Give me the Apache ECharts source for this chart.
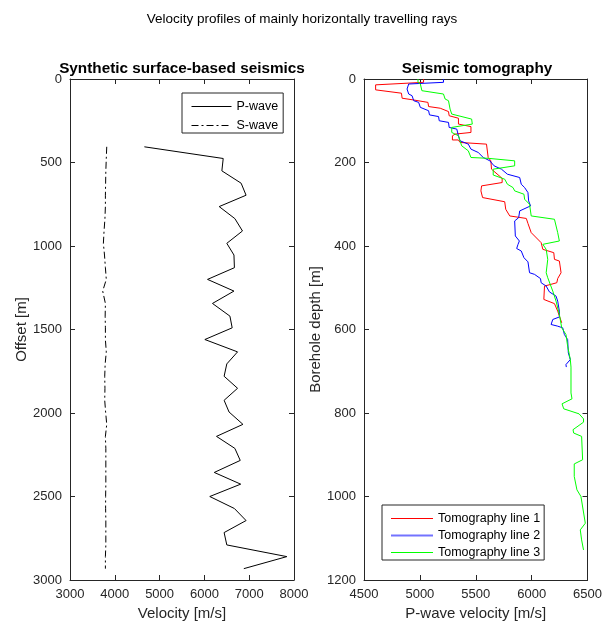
<!DOCTYPE html>
<html>
<head>
<meta charset="utf-8">
<script src="https://cdn.jsdelivr.net/npm/echarts@6/dist/echarts.min.js"></script>
<style>
  html, body { margin: 0; padding: 0; background: #fff; }
  #chart { width: 605px; height: 628px; }
</style>
</head>
<body>
<div id="chart"></div>
<script>
// Synthetic surface-based seismics: offsets [m] and velocities [m/s]
const offsets = [406, 476, 550, 624, 696, 764, 836, 910, 984, 1054, 1130, 1200, 1270, 1344, 1420, 1490, 1560, 1634,
  1706, 1780, 1852, 1924, 1994, 2068, 2140, 2212, 2284, 2356, 2426, 2500, 2572, 2644, 2716, 2790, 2860, 2932];
const pWave = [4660, 6420, 6390, 6820, 6930, 6330, 6680, 6850, 6500, 6660, 6670, 6070, 6660, 6180, 6570, 6620, 6010, 6740,
  6500, 6440, 6740, 6440, 6550, 6860, 6270, 6680, 6800, 6220, 6810, 6120, 6670, 6930, 6440, 6500, 7840, 6880];
const sWave = [3820, 3810, 3800, 3795, 3790, 3790, 3780, 3760, 3745, 3770, 3790, 3810, 3730, 3790, 3785, 3790, 3790, 3810,
  3785, 3775, 3780, 3775, 3795, 3820, 3790, 3800, 3800, 3800, 3800, 3795, 3795, 3800, 3800, 3800, 3790, 3790];

// Seismic tomography: [P-wave velocity m/s, borehole depth m]
const tomoLine1 = [[5033,0],[5033,8],[4604,14],[4604,26],[4835,34],[4841,46],[4939,50],[5072,56],[5078,66],[5182,70],
  [5256,78],[5262,88],[5345,94],[5345,108],[5457,114],[5457,128],[5315,132],[5291,136],[5291,146],[5345,146],[5359,152],
  [5596,156],[5611,188],[5635,196],[5641,216],[5736,238],[5736,248],[5552,256],[5546,268],[5561,284],[5759,294],
  [5768,312],[5804,328],[5952,334],[5967,346],[5996,368],[6085,392],[6100,396],[6100,408],[6198,416],[6204,432],
  [6248,436],[6263,464],[6233,478],[6225,488],[6115,496],[6109,528],[6204,538],[6233,556],[6269,584]];
const tomoLine2 = [[5211,0],[5211,8],[4900,12],[4885,24],[4900,36],[4930,40],[4945,52],[4989,56],[5004,68],[5078,76],
  [5086,86],[5167,90],[5173,100],[5256,104],[5262,116],[5330,120],[5345,136],[5359,148],[5433,156],[5457,168],
  [5522,176],[5567,188],[5626,196],[5664,208],[5730,216],[5783,228],[5893,236],[5907,252],[5937,260],[5967,272],
  [5973,292],[5990,304],[5893,316],[5884,332],[5848,340],[5854,376],[5890,388],[5878,396],[5866,406],[5907,412],
  [5931,428],[5967,438],[5981,464],[6026,468],[6079,478],[6085,488],[6130,496],[6159,510],[6218,520],[6233,532],
  [6248,556],[6248,570],[6189,576],[6174,588],[6233,592],[6278,596],[6293,612],[6322,624],[6328,656],[6346,672],
  [6307,684],[6310,690]];
const tomoLine3 = [[4983,0],[4983,8],[5004,12],[5018,28],[5211,36],[5226,48],[5256,52],[5270,72],[5285,84],[5463,96],
  [5469,108],[5285,116],[5285,128],[5345,136],[5359,148],[5374,160],[5433,172],[5457,188],[5611,190],[5848,196],
  [5848,208],[5656,216],[5656,230],[5759,240],[5783,252],[5833,260],[5848,268],[5931,276],[5937,288],[5981,300],
  [5996,328],[6204,336],[6233,368],[6248,388],[6100,396],[6130,408],[6144,432],[6130,464],[6144,476],[6189,508],
  [6218,532],[6248,564],[6269,596],[6307,612],[6322,640],[6346,672],[6352,690],[6352,752],[6361,766],[6272,778],
  [6287,790],[6424,802],[6464,814],[6464,822],[6370,840],[6376,848],[6447,856],[6456,912],[6381,922],[6381,952],
  [6405,984],[6441,1000],[6480,1064],[6435,1080],[6447,1104],[6464,1128]];

const FONT = 'Liberation Sans, Arial, Helvetica, sans-serif';
const INK = '#262626';

function axisBase(min, max, interval, extra) {
  return Object.assign({
    type: 'value', min: min, max: max, interval: interval,
    axisLine: { show: true, onZero: false, lineStyle: { color: INK, width: 1 } },
    axisTick: { show: true, inside: true, length: 5, lineStyle: { color: INK } },
    axisLabel: { show: true, color: INK, fontSize: 13, fontFamily: FONT, margin: 8,
      formatter: (v) => String(v) },
    splitLine: { show: false },
    nameTextStyle: { color: INK, fontSize: 15, fontFamily: FONT }
  }, extra);
}
function mirror(min, max, interval, extra) {
  const a = axisBase(min, max, interval, extra);
  a.axisLabel = { show: false };
  return a;
}

// legend keeps only the line sample (the point marker is hidden)
const legendCommon = {
  orient: 'vertical', selectedMode: false,
  borderColor: INK, borderWidth: 1, backgroundColor: '#fff',
  itemStyle: { opacity: 0, borderWidth: 0 },
  lineStyle: { width: 1 },
  textStyle: { fontSize: 12.5, color: '#000', fontFamily: FONT }
};

const option = {
  animation: false,
  backgroundColor: '#fff',
  title: [
    { text: 'Velocity profiles of mainly horizontally travelling rays', left: 297, top: 7, textAlign: 'center',
      textStyle: { fontSize: 13.5, fontWeight: 'normal', color: '#000', fontFamily: FONT } },
    { text: 'Synthetic surface-based seismics', left: 177, top: 56, textAlign: 'center',
      textStyle: { fontSize: 15.3, fontWeight: 'bold', color: '#000', fontFamily: FONT } },
    { text: 'Seismic tomography', left: 472, top: 56, textAlign: 'center',
      textStyle: { fontSize: 15.3, fontWeight: 'bold', color: '#000', fontFamily: FONT } }
  ],
  grid: [
    { left: 70, top: 79, width: 224, height: 501 },
    { left: 364, top: 79, width: 226, height: 501 }
  ],
  xAxis: [
    axisBase(3000, 8000, 1000, { gridIndex: 0, position: 'bottom', name: 'Velocity [m/s]', nameLocation: 'middle', nameGap: 26 }),
    mirror(3000, 8000, 1000, { gridIndex: 0, position: 'top' }),
    axisBase(4500, 6500, 500, { gridIndex: 1, position: 'bottom', name: 'P-wave velocity [m/s]', nameLocation: 'middle', nameGap: 26 }),
    mirror(4500, 6500, 500, { gridIndex: 1, position: 'top' })
  ],
  yAxis: [
    axisBase(0, 3000, 500, { gridIndex: 0, position: 'left', inverse: true, name: 'Offset [m]', nameLocation: 'middle', nameGap: 34 }),
    mirror(0, 3000, 500, { gridIndex: 0, position: 'right', inverse: true }),
    axisBase(0, 1200, 200, { gridIndex: 1, position: 'left', inverse: true, name: 'Borehole depth [m]', nameLocation: 'middle', nameGap: 31 }),
    mirror(0, 1200, 200, { gridIndex: 1, position: 'right', inverse: true })
  ],
  legend: [
    Object.assign({}, legendCommon, { data: ['P-wave', 'S-wave'], left: 182, top: 93,
      itemWidth: 40, itemHeight: 14, itemGap: 6, padding: [7, 5, 1, 9] }),
    Object.assign({}, legendCommon, {
      data: ['Tomography line 1',
        { name: 'Tomography line 2', lineStyle: { width: 2, color: '#0000ff', opacity: 0.55 } },
        'Tomography line 3'],
      left: 382, top: 505, itemWidth: 42, itemHeight: 14, itemGap: 4, padding: [7, 4, 1, 8] })
  ],
  series: [
    { name: 'P-wave', type: 'line', xAxisIndex: 0, yAxisIndex: 0, symbol: 'none',
      data: offsets.map((d, i) => [pWave[i], d]),
      lineStyle: { color: '#000', width: 1 }, itemStyle: { color: '#000' } },
    { name: 'S-wave', type: 'line', xAxisIndex: 0, yAxisIndex: 0, symbol: 'none',
      data: offsets.map((d, i) => [sWave[i], d]),
      lineStyle: { color: '#000', width: 1, type: [7, 3, 2, 3] }, itemStyle: { color: '#000' } },
    { name: 'Tomography line 1', type: 'line', xAxisIndex: 2, yAxisIndex: 2, symbol: 'none', data: tomoLine1,
      lineStyle: { color: '#ff0000', width: 1 }, itemStyle: { color: '#ff0000' } },
    { name: 'Tomography line 2', type: 'line', xAxisIndex: 2, yAxisIndex: 2, symbol: 'none', data: tomoLine2,
      lineStyle: { color: '#0000ff', width: 1 }, itemStyle: { color: '#0000ff' } },
    { name: 'Tomography line 3', type: 'line', xAxisIndex: 2, yAxisIndex: 2, symbol: 'none', data: tomoLine3,
      lineStyle: { color: '#00ff00', width: 1 }, itemStyle: { color: '#00ff00' } }
  ]
};

echarts.init(document.getElementById('chart'), null, { renderer: 'canvas' }).setOption(option);
</script>
</body>
</html>
